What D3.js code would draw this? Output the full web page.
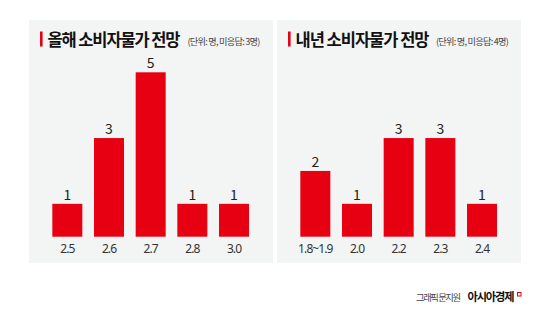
<!DOCTYPE html>
<html><head><meta charset="utf-8">
<script src="https://cdn.jsdelivr.net/npm/d3@7"></script>
<style>
html,body{margin:0;padding:0;background:#fff;}
svg{display:block;}
text{font-family:"Noto Sans CJK KR","Noto Sans",sans-serif;}
</style></head>
<body>
<svg id="c" width="550" height="319"></svg>
<script>
const titles = ["올해 소비자물가 전망", "내년 소비자물가 전망"];
const subtitles = ["(단위: 명, 미응답: 3명)", "(단위: 명, 미응답: 4명)"];
const categoriesThisYear = ["2.5", "2.6", "2.7", "2.8", "3.0"];
const valuesThisYear = [1, 3, 5, 1, 1];
const categoriesNextYear = ["1.8~1.9", "2.0", "2.2", "2.3", "2.4"];
const valuesNextYear = [2, 1, 3, 3, 1];
const credit = "그래픽 문지원";
const brand = "아시아경제";

const svg = d3.select("#c");
const RED = "#e60012";

function fit(sel, target) {
  const node = sel.node();
  const n = node.textContent.length;
  const w = node.getComputedTextLength();
  const ls = (target - w) / Math.max(1, n - 1);
  sel.attr("letter-spacing", ls.toFixed(2) + "px");
  return sel;
}

const panels = [
  {x0: 29, cats: categoriesThisYear, vals: valuesThisYear, title: titles[0], sub: subtitles[0]},
  {x0: 277, cats: categoriesNextYear, vals: valuesNextYear, title: titles[1], sub: subtitles[1]}
];
const y = d3.scaleLinear().domain([0, 5]).range([236.7, 72.3]);

panels.forEach((p, i) => {
  const g = svg.append("g");
  g.append("rect").attr("x", p.x0).attr("y", 20).attr("width", 244).attr("height", 243).attr("fill", "#f3f4f4");
  g.append("rect").attr("x", p.x0 + 11).attr("y", 31.5).attr("width", 2.6).attr("height", 15).attr("fill", RED);
  fit(g.append("text").attr("x", p.x0 + 18.5).attr("y", 46)
    .attr("font-size", 16.5).attr("font-weight", 700).attr("fill", "#111")
    .text(p.title), i === 0 ? 133 : 134);
  fit(g.append("text").attr("x", p.x0 + (i === 0 ? 158.5 : 159)).attr("y", 45)
    .attr("font-size", 9.2).attr("fill", "#444")
    .text(p.sub), 73);

  const start = p.x0 + 17.5;
  const x = d3.scaleBand().domain(p.cats).range([start, start + 5 * 41.67])
    .paddingInner(0.28).paddingOuter(0.14);

  g.selectAll(".bar").data(p.cats).enter().append("rect")
    .attr("x", d => x(d)).attr("width", x.bandwidth())
    .attr("y", (d, j) => y(p.vals[j])).attr("height", (d, j) => y(0) - y(p.vals[j]))
    .attr("fill", RED);

  g.selectAll(".val").data(p.cats).enter().append("text")
    .attr("x", d => x(d) + x.bandwidth() / 2).attr("y", (d, j) => y(p.vals[j]) - 4)
    .attr("text-anchor", "middle").attr("font-size", 14).attr("fill", "#222")
    .text((d, j) => p.vals[j]);

  const ax = g.append("g").attr("transform", `translate(0,${y(0)})`)
    .call(d3.axisBottom(x).tickSize(0).tickPadding(7.4));
  ax.select(".domain").remove();
  ax.selectAll("text").attr("font-size", 12).attr("fill", "#333")
    .attr("letter-spacing", "-0.9px")
    .style("font-family", '"Noto Sans","Noto Sans CJK KR",sans-serif');
});

fit(svg.append("text").attr("x", 416).attr("y", 300.5).attr("font-size", 9.3).attr("fill", "#444")
  .text(credit), 45);
fit(svg.append("text").attr("x", 467.5).attr("y", 301).attr("font-size", 11.2).attr("font-weight", 700).attr("fill", "#111")
  .text(brand), 47);
svg.append("rect").attr("x", 517.5).attr("y", 292.5).attr("width", 3.5).attr("height", 3.5)
  .attr("fill", "none").attr("stroke", RED).attr("stroke-width", 1);
</script>
</body></html>
